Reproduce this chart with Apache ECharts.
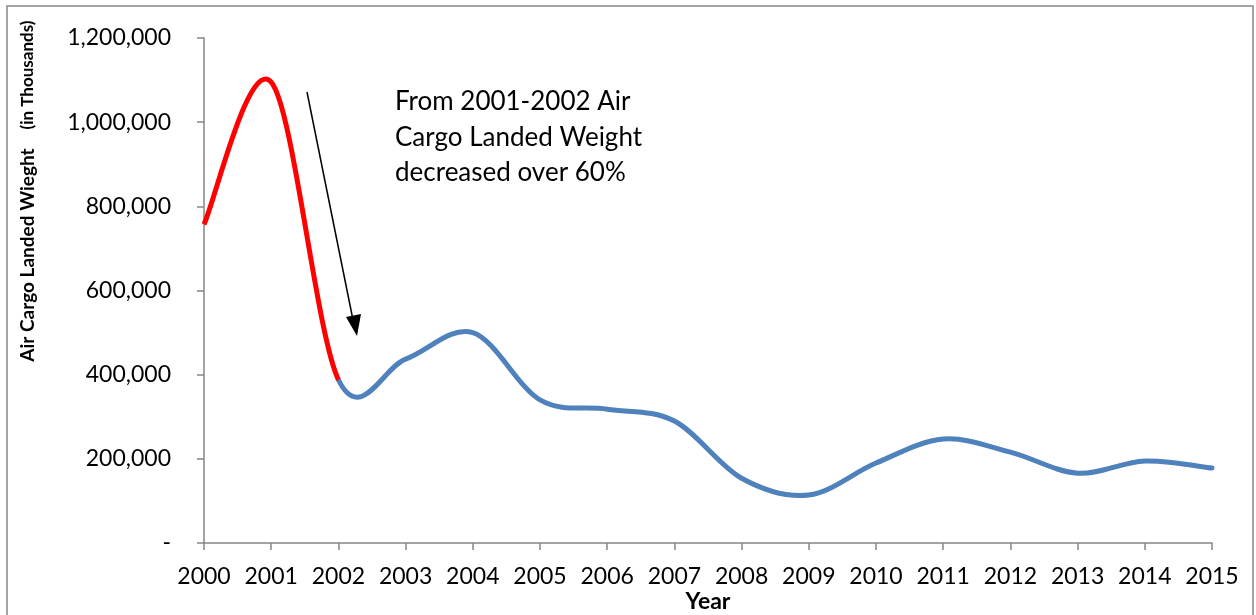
<!DOCTYPE html>
<html><head><meta charset="utf-8">
<script src="https://cdn.jsdelivr.net/npm/echarts@6/dist/echarts.min.js"></script>
<style>html,body{margin:0;padding:0;background:#fff}#c{width:1256px;height:615px}</style>
</head><body><div id="c"></div>
<script>
const years = ['2000','2001','2002','2003','2004','2005','2006','2007','2008','2009','2010','2011','2012','2013','2014','2015'];
const weights = [757000,1095000,388000,437000,500000,340000,318000,290000,154000,114000,190000,247000,216000,166000,195000,178000];
const yTicks = {min:0, max:1200000, interval:200000};
const redUntilIndex = 2;
const note = 'From 2001-2002 Air\nCargo Landed Weight\ndecreased over 60%';
const F = 'Lato, "Open Sans", sans-serif';

function smoothPath(pts, from, to) {
  // Catmull-Rom style bezier through screen points (Excel-like smoothing)
  const n = pts.length;
  const P = i => pts[Math.max(0, Math.min(n - 1, i))];
  let d = 'M' + pts[from][0] + ' ' + pts[from][1];
  for (let i = from; i < to; i++) {
    const p0 = P(i - 1), p1 = P(i), p2 = P(i + 1), p3 = P(i + 2);
    const c1 = [p1[0] + (p2[0] - p0[0]) / 6, p1[1] + (p2[1] - p0[1]) / 6];
    const c2 = [p2[0] - (p3[0] - p1[0]) / 6, p2[1] - (p3[1] - p1[1]) / 6];
    d += ' C' + c1[0] + ' ' + c1[1] + ' ' + c2[0] + ' ' + c2[1] + ' ' + p2[0] + ' ' + p2[1];
  }
  return d;
}

const chart = echarts.init(document.getElementById('c'));
chart.setOption({
  animation:false,
  grid:{left:204,right:44,top:38,bottom:72},
  xAxis:{type:'category',data:years,boundaryGap:false,
    axisLine:{lineStyle:{color:'#868686',width:1.5}},
    axisTick:{length:7,interval:0,lineStyle:{color:'#868686',width:1.5}},
    axisLabel:{color:'#000',fontSize:23,fontFamily:F,margin:22,interval:0}},
  yAxis:{type:'value',min:yTicks.min,max:yTicks.max,interval:yTicks.interval,
    splitLine:{show:false},
    axisLine:{show:true,lineStyle:{color:'#868686',width:1.5}},
    axisTick:{show:true,length:7,lineStyle:{color:'#868686',width:1.5}},
    axisLabel:{color:'#000',fontSize:23,fontFamily:F,margin:33,
      formatter:v=>v===0?'-':v.toLocaleString('en-US')}},
  series:[{type:'custom',data:weights,clip:false,
    renderItem:function(params, api){
      if (params.dataIndex !== 0) return null;
      const pts = weights.map((v, i) => api.coord([i, v]));
      return {type:'group',children:[
        {type:'path',shape:{pathData:smoothPath(pts, redUntilIndex, pts.length - 1)},
          style:{fill:'none',stroke:'#4F81BD',lineWidth:5,lineCap:'round',lineJoin:'round'}},
        {type:'path',shape:{pathData:smoothPath(pts, 0, redUntilIndex)},
          style:{fill:'none',stroke:'#FF0000',lineWidth:5,lineCap:'butt',lineJoin:'round'}}
      ]};
    }}],
  graphic:[
    {type:'rect',shape:{x:7,y:6,width:1246,height:620},style:{fill:'none',stroke:'#868686',lineWidth:1.5}},
    {type:'text',x:395,y:84,style:{text:note,fontSize:26,fontFamily:F,fill:'#000',lineHeight:35.5}},
    {type:'line',shape:{x1:307,y1:92,x2:353,y2:320},style:{stroke:'#000',lineWidth:1.5}},
    {type:'polygon',shape:{points:[[346,317],[361,314],[357,336]]},style:{fill:'#000'}},
    {type:'text',x:28,y:255,rotation:Math.PI/2,style:{text:'Air Cargo Landed Wieght',fontSize:19,fontWeight:'bold',fontFamily:F,fill:'#000',align:'center',verticalAlign:'middle'}},
    {type:'text',x:28,y:75,rotation:Math.PI/2,style:{text:'(in Thousands)',fontSize:17,fontWeight:'bold',fontFamily:F,fill:'#000',align:'center',verticalAlign:'middle'}},
    {type:'text',x:708,y:602,style:{text:'Year',fontSize:23,fontWeight:'bold',fontFamily:F,fill:'#000',align:'center',verticalAlign:'middle'}}
  ]
});
</script></body></html>
